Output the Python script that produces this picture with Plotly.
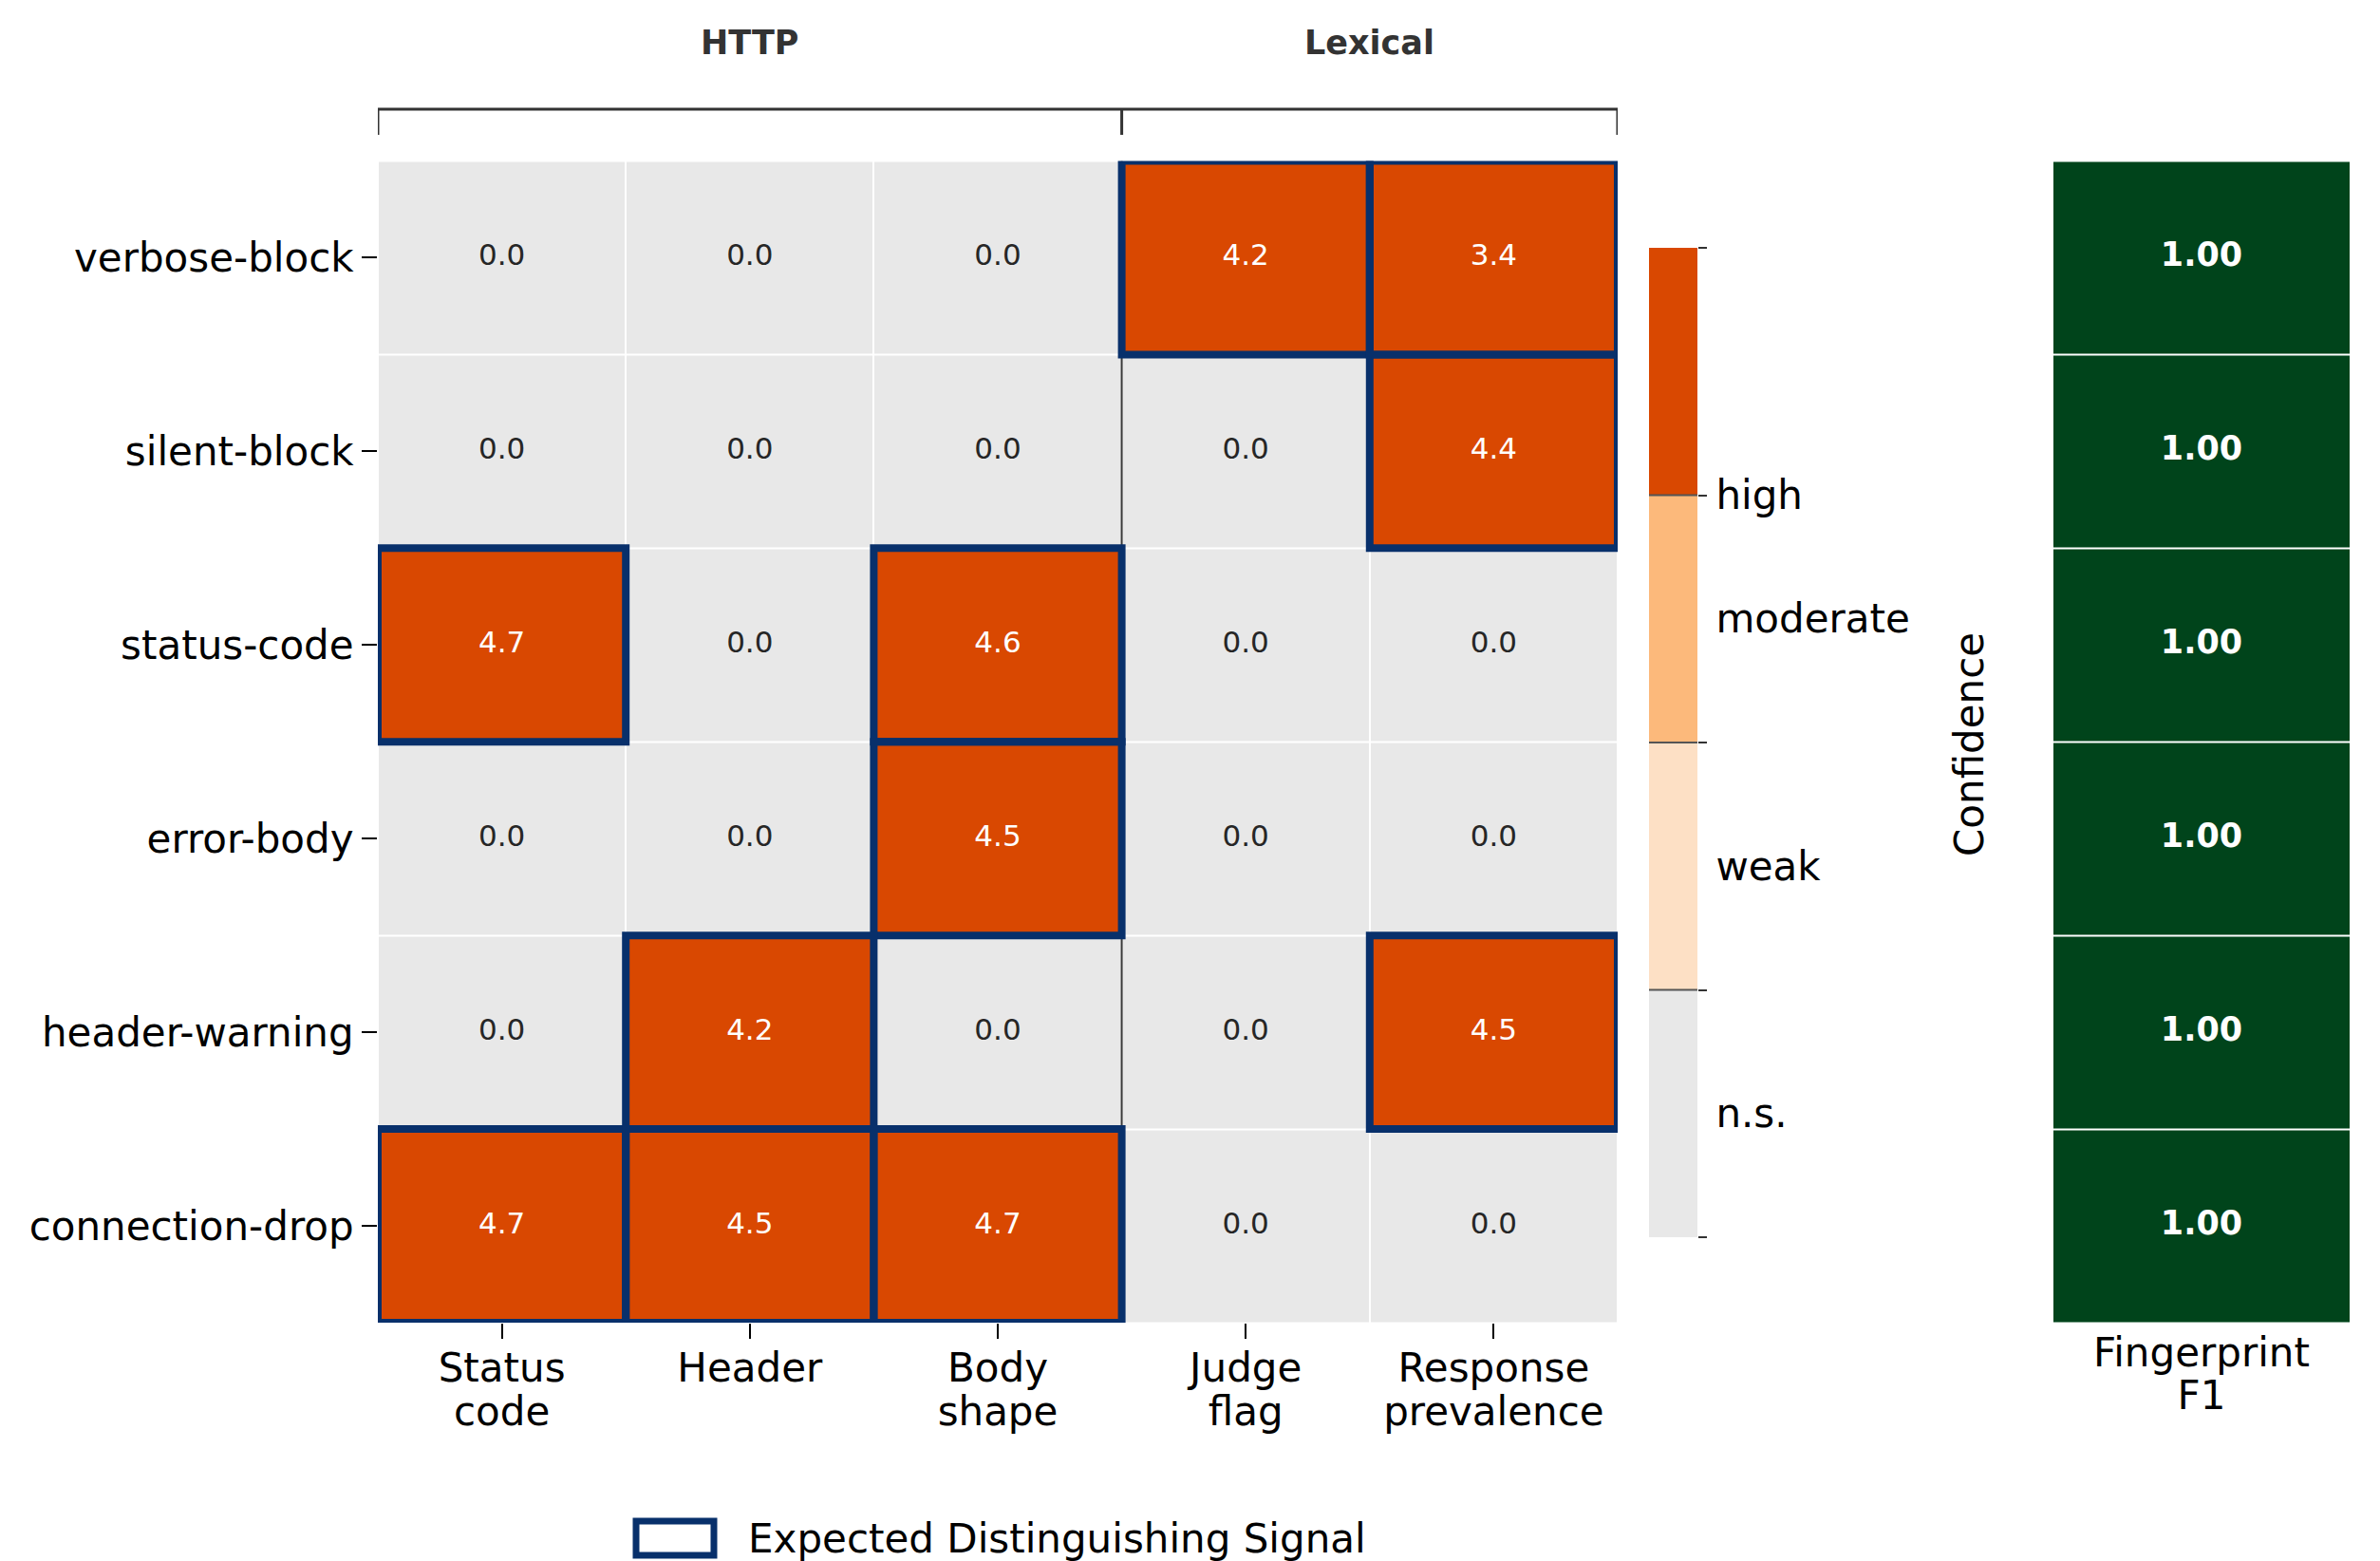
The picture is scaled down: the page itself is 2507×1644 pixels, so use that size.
import plotly.graph_objects as go

# ---------------- data ----------------
signatures = ["verbose-block", "silent-block", "status-code", "error-body",
              "header-warning", "connection-drop"]
signals = ["Status\ncode", "Header", "Body\nshape", "Judge\nflag", "Response\nprevalence"]
groups = ["HTTP", "Lexical"]
group_sizes = [3, 2]

scores = [
    [0.0, 0.0, 0.0, 4.2, 3.4],
    [0.0, 0.0, 0.0, 0.0, 4.4],
    [4.7, 0.0, 4.6, 0.0, 0.0],
    [0.0, 0.0, 4.5, 0.0, 0.0],
    [0.0, 4.2, 0.0, 0.0, 4.5],
    [4.7, 4.5, 4.7, 0.0, 0.0],
]
# confidence level index: 0 = n.s., 1 = weak, 2 = moderate, 3 = high
confidence = [
    [0, 0, 0, 3, 3],
    [0, 0, 0, 0, 3],
    [3, 0, 3, 0, 0],
    [0, 0, 3, 0, 0],
    [0, 3, 0, 0, 3],
    [3, 3, 3, 0, 0],
]
expected = [
    [0, 0, 0, 1, 1],
    [0, 0, 0, 0, 1],
    [1, 0, 1, 0, 0],
    [0, 0, 1, 0, 0],
    [0, 1, 0, 0, 1],
    [1, 1, 1, 0, 0],
]
f1_scores = [1.00, 1.00, 1.00, 1.00, 1.00, 1.00]
f1_label = "Fingerprint\nF1"
level_names = ["n.s.", "weak", "moderate", "high"]
level_colors = ["#e8e8e8", "#fde0c5", "#fcb97b", "#d94801"]
legend_label = "Expected Distinguishing Signal"

# ---------------- styling ----------------
W, H = 2507, 1644
FONT = "DejaVu Sans"
NAVY = "#08306b"
GREEN = "#00441b"
FS = 42
LINE_GAP = 46

def px_x(a, b):
    return [a / W, b / W]

def px_y(top, bottom):
    return [(H - bottom) / H, (H - top) / H]

def line_part(label, k):
    parts = label.split("\n")
    return parts[k] if k < len(parts) else ""

n_rows = len(signatures)
n_cols = len(signals)
rows = list(range(n_rows))
cols = list(range(n_cols))

cs = []
n_lv = len(level_colors)
for k, c in enumerate(level_colors):
    cs.append([k / n_lv, c])
    cs.append([(k + 1) / n_lv, c])

fig = go.Figure()

# main heatmap
fig.add_trace(go.Heatmap(
    z=confidence, x=cols, y=rows, colorscale=cs, zmin=0, zmax=n_lv - 1,
    showscale=False, xgap=2, ygap=2, hoverinfo="skip",
    xaxis="x", yaxis="y"))

# cell value labels
tx, ty, tt, tc = [], [], [], []
for i in rows:
    for j in cols:
        tx.append(j); ty.append(i)
        tt.append(f"{scores[i][j]:.1f}")
        tc.append("white" if confidence[i][j] >= 2 else "#262626")
fig.add_trace(go.Scatter(
    x=tx, y=ty, text=tt, mode="text",
    textfont=dict(family=FONT, size=31, color=tc),
    hoverinfo="skip", showlegend=False, xaxis="x", yaxis="y"))
# carrier for second line of x labels
fig.add_trace(go.Scatter(x=cols, y=[0] * n_cols, mode="markers",
                         marker=dict(opacity=0), hoverinfo="skip",
                         showlegend=False, xaxis="x5", yaxis="y"))

# F1 column
fig.add_trace(go.Heatmap(
    z=[[v] for v in f1_scores], x=[0], y=rows,
    colorscale=[[0, GREEN], [1, GREEN]], zmin=0, zmax=1,
    showscale=False, ygap=2, hoverinfo="skip", xaxis="x2", yaxis="y2"))
fig.add_trace(go.Scatter(
    x=[0] * n_rows, y=rows, text=[f"<b>{v:.2f}</b>" for v in f1_scores],
    mode="text", textfont=dict(family=FONT, size=35, color="white"),
    hoverinfo="skip", showlegend=False, xaxis="x2", yaxis="y2"))
fig.add_trace(go.Scatter(x=[0], y=[0], mode="markers", marker=dict(opacity=0),
                         hoverinfo="skip", showlegend=False, xaxis="x6", yaxis="y2"))

# colour bar as its own heatmap
fig.add_trace(go.Heatmap(
    z=[[k] for k in range(n_lv)], x=[0], y=[k + 0.5 for k in range(n_lv)],
    colorscale=cs, zmin=0, zmax=n_lv - 1, showscale=False, hoverinfo="skip",
    xaxis="x3", yaxis="y3"))
label_pos = [n_lv - 1] + [k + 0.5 for k in range(n_lv - 2, -1, -1)]
label_txt = [level_names[-1]] + [level_names[k] for k in range(n_lv - 2, -1, -1)]
fig.add_trace(go.Scatter(
    x=[0, 0], y=[0, n_lv], mode="markers", marker=dict(opacity=0),
    hoverinfo="skip", showlegend=False, xaxis="x3", yaxis="y4"))

shapes = []
annotations = []

# group separator and brackets
edges = [-0.5]
for s in group_sizes:
    edges.append(edges[-1] + s)
for e in edges[1:-1]:
    shapes.append(dict(type="line", xref="x", yref="y", x0=e, x1=e,
                       y0=-0.5, y1=n_rows - 0.5,
                       line=dict(color="#3a3a3a", width=2), layer="above"))
y_br = (H - 115) / H
y_br2 = (H - 142) / H
shapes.append(dict(type="line", xref="x", yref="paper", x0=edges[0], x1=edges[-1],
                   y0=y_br, y1=y_br, line=dict(color="#333333", width=3)))
for e in edges:
    shapes.append(dict(type="line", xref="x", yref="paper", x0=e, x1=e,
                       y0=y_br, y1=y_br2, line=dict(color="#333333", width=3)))
for g, a, b in zip(groups, edges[:-1], edges[1:]):
    annotations.append(dict(text=f"<b>{g}</b>", xref="x", yref="paper",
                            x=(a + b) / 2, y=(H - 45) / H, showarrow=False,
                            font=dict(family=FONT, size=35, color="#333333"),
                            xanchor="center", yanchor="middle"))

# expected-signal boxes
for i in rows:
    for j in cols:
        if expected[i][j]:
            shapes.append(dict(type="rect", xref="x", yref="y",
                               x0=j - 0.5, x1=j + 0.5, y0=i - 0.5, y1=i + 0.5,
                               line=dict(color=NAVY, width=8), layer="above"))

# colour bar dividers
for k in range(1, n_lv):
    shapes.append(dict(type="line", xref="x3", yref="y3", x0=-0.5, x1=0.5,
                       y0=k, y1=k, line=dict(color="#555555", width=2), layer="above"))

# colour bar title
annotations.append(dict(text="Confidence", xref="paper", yref="paper",
                        x=2074 / W, y=(H - 784) / H, textangle=-90, showarrow=False,
                        font=dict(family=FONT, size=FS, color="black"),
                        xanchor="center", yanchor="middle"))

# legend (patch + label)
shapes.append(dict(type="rect", xref="paper", yref="paper",
                   x0=670 / W, x1=752 / W, y0=(H - 1638) / H, y1=(H - 1602) / H,
                   fillcolor="white", line=dict(color=NAVY, width=7)))
annotations.append(dict(text=legend_label, xref="paper", yref="paper",
                        x=786 / W, y=(H - 1620) / H, showarrow=False,
                        font=dict(family=FONT, size=FS, color="black"),
                        xanchor="left", yanchor="middle"))

tickfont = dict(family=FONT, size=FS, color="black")
hm_y = px_y(169.5, 1393)

fig.update_layout(
    width=W, height=H, autosize=False,
    margin=dict(l=0, r=0, t=0, b=0, pad=0),
    paper_bgcolor="white", plot_bgcolor="white",
    showlegend=False,
    shapes=shapes, annotations=annotations,
    xaxis=dict(domain=px_x(398, 1704), range=[-0.5, n_cols - 0.5],
               tickvals=cols, ticktext=[line_part(s, 0) for s in signals],
               ticks="outside", ticklen=16, ticklabelstandoff=-5,
               tickwidth=2, tickcolor="black", tickfont=tickfont,
               showgrid=False, zeroline=False, showline=False, automargin=False,
               anchor="y"),
    xaxis5=dict(domain=px_x(398, 1704), range=[-0.5, n_cols - 0.5], overlaying="x",
                tickvals=cols, ticktext=[line_part(s, 1) for s in signals],
                ticks="outside", ticklen=16 + LINE_GAP, tickcolor="rgba(0,0,0,0)",
                ticklabelstandoff=-5,
                tickfont=tickfont, showgrid=False, zeroline=False, showline=False,
                automargin=False, anchor="y"),
    yaxis=dict(domain=hm_y, range=[n_rows - 0.5, -0.5],
               tickvals=rows, ticktext=signatures, ticks="outside", ticklen=16,
               tickwidth=2, tickcolor="black", tickfont=tickfont,
               showgrid=False, zeroline=False, showline=False, automargin=False,
               anchor="x"),
    xaxis2=dict(domain=px_x(2163, 2475), range=[-0.5, 0.5], tickvals=[0],
                ticktext=[line_part(f1_label, 0)], ticks="outside", ticklen=4,
                ticklabelstandoff=-9,
                tickcolor="rgba(0,0,0,0)", tickfont=tickfont,
                showgrid=False, zeroline=False, showline=False, automargin=False,
                anchor="y2"),
    xaxis6=dict(domain=px_x(2163, 2475), range=[-0.5, 0.5], overlaying="x2",
                tickvals=[0], ticktext=[line_part(f1_label, 1)], ticks="outside",
                ticklen=4 + 45, ticklabelstandoff=-9,
                tickcolor="rgba(0,0,0,0)", tickfont=tickfont,
                showgrid=False, zeroline=False, showline=False, automargin=False,
                anchor="y2"),
    yaxis2=dict(domain=hm_y, range=[n_rows - 0.5, -0.5],
                showticklabels=False, ticks="", showgrid=False, zeroline=False,
                showline=False, automargin=False, anchor="x2"),
    xaxis3=dict(domain=px_x(1737, 1788), range=[-0.5, 0.5], visible=False,
                anchor="y3"),
    yaxis3=dict(domain=px_y(261, 1303), range=[0, n_lv], side="right",
                tickvals=list(range(n_lv + 1)), ticktext=[""] * (n_lv + 1),
                ticks="outside", ticklen=9, tickwidth=2, tickcolor="#333333",
                showgrid=False, zeroline=False, showline=False, automargin=False,
                anchor="x3"),
    yaxis4=dict(domain=px_y(261, 1303), range=[0, n_lv], side="right",
                overlaying="y3", tickvals=label_pos, ticktext=label_txt,
                ticks="outside", ticklen=10, tickcolor="rgba(0,0,0,0)",
                tickfont=tickfont, showgrid=False, zeroline=False, showline=False,
                automargin=False, anchor="x3"),
)

fig.write_html("out.html")
